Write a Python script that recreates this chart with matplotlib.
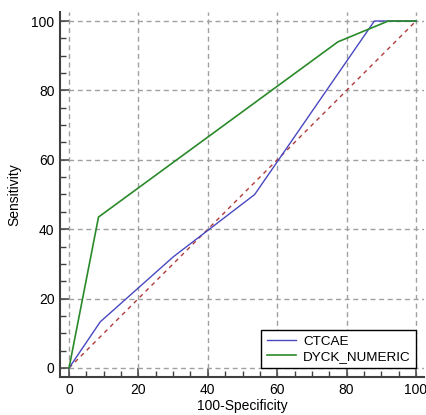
import matplotlib
matplotlib.use("Agg")
import matplotlib.pyplot as plt
from matplotlib.ticker import MultipleLocator

plt.rcParams['font.family'] = ['Liberation Sans', 'DejaVu Sans']

# ROC curves
ctcae_x = [0, 9, 30, 53.5, 88, 100]
ctcae_y = [0, 13.3, 32, 50, 100, 100]
dyck_x = [0, 8.5, 77.5, 92, 100]
dyck_y = [0, 43.5, 94, 100, 100]
diag_x = [0, 100]
diag_y = [0, 100]
ticks = [0, 20, 40, 60, 80, 100]

fig = plt.figure(figsize=(4.27, 4.15), dpi=100)
ax = fig.add_axes([60 / 427, 1 - 377 / 415, 364 / 427, 365 / 415])

ax.plot(diag_x, diag_y, color='#b03a3a', lw=1.0, dashes=(3, 3), zorder=2)
ax.plot(ctcae_x, ctcae_y, color='#4848c0', lw=1.0, label='CTCAE', zorder=3)
ax.plot(dyck_x, dyck_y, color='#2a8a2a', lw=1.2, label='DYCK_NUMERIC', zorder=3)

ax.set_xlim(-2.6, 102.3)
ax.set_ylim(-2.6, 102.6)
ax.set_xticks(ticks)
ax.set_yticks(ticks)
ax.xaxis.set_minor_locator(MultipleLocator(5))
ax.yaxis.set_minor_locator(MultipleLocator(5))
ax.grid(True, which='major', color='#a0a0a0', lw=1.0, dashes=(3.6, 2.6))

for s in ['right', 'top']:
    ax.spines[s].set_visible(False)
for s in ['left', 'bottom']:
    ax.spines[s].set_color('#404040')
    ax.spines[s].set_linewidth(1.5)

ax.tick_params(which='major', direction='in', length=6.5, width=1.1,
               color='#404040', labelsize=10, pad=4)
ax.tick_params(which='minor', direction='in', length=4, width=1.0,
               color='#404040')

ax.set_xlabel('100-Specificity', fontsize=10, labelpad=2)
ax.set_ylabel('Sensitivity', fontsize=10, labelpad=7)

leg = ax.legend(loc='lower right', bbox_to_anchor=(100, 0),
                bbox_transform=ax.transData, borderaxespad=0,
                fancybox=False, edgecolor='black', framealpha=1,
                fontsize=9.7, handlelength=2.2, handletextpad=0.5,
                labelspacing=0.15, borderpad=0.4)
leg.get_frame().set_linewidth(1.0)

fig.savefig('out.png', dpi=100)
